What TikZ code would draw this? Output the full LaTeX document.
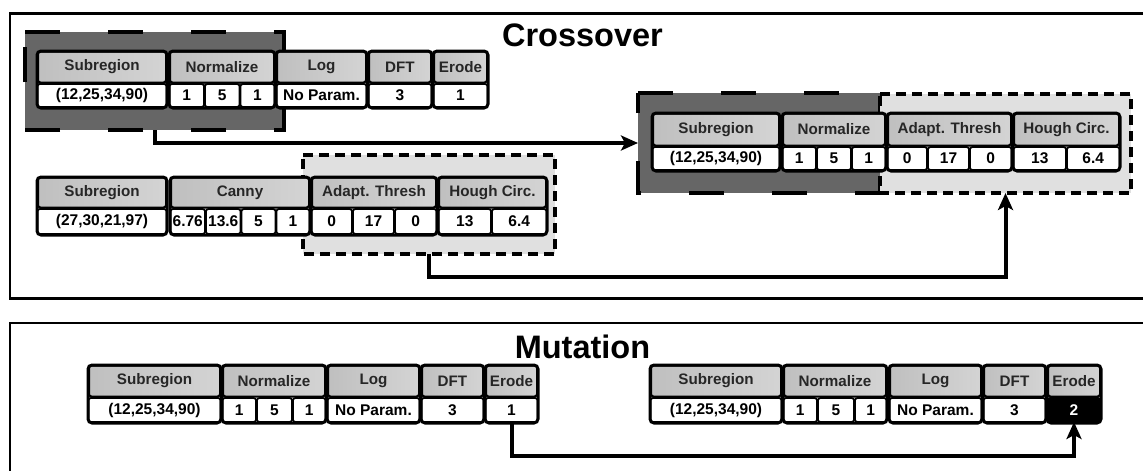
\documentclass[tikz,border=0pt]{standalone}
\usepackage{fontspec}
\setmainfont{Liberation Sans}
\usetikzlibrary{arrows.meta}
\tikzset{
 hdr/.style={draw=black, line width=2pt, rounded corners=2.5pt, left color=black!25, right color=black!17, inner sep=0pt, outer sep=0pt, text=black!85, font=\bfseries\fontsize{15.2}{18}\selectfont},
 val/.style={draw=black, line width=1.8pt, rounded corners=2.5pt, fill=white, inner sep=0pt, outer sep=0pt, font=\bfseries\fontsize{15.5}{18}\selectfont},
 valblack/.style={val, fill=black, text=white},
 blk/.style={draw=black, line width=3pt, rounded corners=4pt},
 darksel/.style={fill=black!60, inner sep=0pt, outer sep=0pt},
 lightsel/.style={fill=black!12, inner sep=0pt, outer sep=0pt},
 darkdash/.style={line width=3.5pt, dash pattern=on 35pt off 48pt},
 lightdash/.style={line width=3.8pt, dash pattern=on 10pt off 6pt},
 frame/.style={draw=black, line width=2.8pt},
 flow/.style={line width=4pt, -{Stealth[length=17pt,width=15pt,inset=4pt]}},
 title/.style={font=\bfseries\fontsize{32.5}{38}\selectfont, anchor=base, inner sep=0pt},
}
% #1 value style, #2 name, #3 x1, #4 x2, #5 ytop, #6 ymid, #7 ybot, #8 header, #9 cells a/b/text
\newcommand\opblock[9][val]{%
  \node[hdr, minimum width={(#4-#3-2)*1pt}, minimum height={(#6-#5-1)*1pt}] (#2h) at ({(#3+#4)/2},{(#5+#6)/2}) {#8};
  \foreach \a/\b/\t [count=\i] in {#9} {
    \node[#1, minimum width={(\b-\a-0.8)*1pt}, minimum height={(#7-#6-2)*1pt}] (#2v\i) at ({(\a+\b)/2},{(#6+#7)/2}) {\t};
  }
  \draw[blk] (#3,#5) rectangle (#4,#7);
}
\begin{document}
\begin{tikzpicture}[x=1pt, y=-1pt]
\clip (0,0) rectangle (1143,471);
% panels
\draw[frame] (10,13.5) rectangle (1165,298.5);
\draw[frame] (10,323) rectangle (1165,495);
\node[title] (tcross) at (582.5,46.7) {Crossover};
\node[title] (tmut) at (582.5,358) {Mutation};
% selection regions
\node[darksel, minimum width=259pt, minimum height=98pt] (p1sel) at (154.5,81) {};
\draw[darkdash] (p1sel.north west) -- (p1sel.north east) -- (p1sel.south east) -- (p1sel.south west) -- cycle;
\node[lightsel, minimum width=252pt, minimum height=99pt] (p2sel) at (429,204.5) {};
\draw[lightdash] (p2sel.north west) -- (p2sel.north east) -- (p2sel.south east) -- (p2sel.south west) -- cycle;
\node[darksel, minimum width=242pt, minimum height=100pt] (c1sel) at (759,143) {};
\draw[darkdash] (c1sel.north west) -- (c1sel.north east) -- (c1sel.south east) -- (c1sel.south west) -- cycle;
\node[lightsel, minimum width=251pt, minimum height=99pt] (c2sel) at (1005.5,143.5) {};
\draw[lightdash] (c2sel.north west) -- (c2sel.north east) -- (c2sel.south east) -- (c2sel.south west) -- cycle;
% parent 1
\opblock{p1a}{37}{167}{51}{83}{108}{Subregion}{37/167/{(12,25,34,90)}}
\opblock{p1b}{169}{275}{51}{83}{108}{Normalize}{169/204.5/1, 204.5/240/5, 240/275/1}
\opblock{p1c}{276}{367}{51}{83}{108}{Log}{276/367/No Param.}
\opblock{p1d}{368}{432}{51}{83}{108}{DFT}{368/432/3}
\opblock{p1e}{433}{488}{51}{83}{108}{Erode}{433/488/1}
% parent 2
\opblock{p2a}{37}{167}{177}{208}{235}{Subregion}{37/167/{(27,30,21,97)}}
\opblock{p2b}{170}{310}{177}{208}{235}{Canny}{170/205.5/6.76, 205.5/241/13.6, 241/276/5, 276/310/1}
\opblock{p2c}{311}{437}{177}{208}{235}{Adapt. Thresh}{311/352.5/0, 352.5/394.5/17, 394.5/437/0}
\opblock{p2d}{438}{547}{177}{208}{235}{Hough Circ.}{438/491.5/13, 491.5/547/6.4}
% child
\opblock{cA}{652}{780}{113}{146}{171}{Subregion}{652/780/{(12,25,34,90)}}
\opblock{cB}{782}{886}{113}{146}{171}{Normalize}{782/816.5/1, 816.5/851.5/5, 851.5/886/1}
\opblock{cC}{887}{1012}{113}{146}{171}{Adapt. Thresh}{887/927.5/0, 927.5/969.5/17, 969.5/1012/0}
\opblock{cD}{1013}{1120}{113}{146}{171}{Hough Circ.}{1013/1066.5/13, 1066.5/1120/6.4}
% mutation, before
\opblock{m1a}{88}{221}{365}{397}{423}{Subregion}{88/221/{(12,25,34,90)}}
\opblock{m1b}{222}{326}{365}{397}{423}{Normalize}{222/256.5/1, 256.5/292.5/5, 292.5/326/1}
\opblock{m1c}{327}{420}{365}{397}{423}{Log}{327/420/No Param.}
\opblock{m1d}{421}{484}{365}{397}{423}{DFT}{421/484/3}
\opblock{m1e}{485}{538}{365}{397}{423}{Erode}{485/538/1}
% mutation, after
\opblock{m2a}{650}{782}{365}{397}{423}{Subregion}{650/782/{(12,25,34,90)}}
\opblock{m2b}{783}{887}{365}{397}{423}{Normalize}{783/817.5/1, 817.5/854.5/5, 854.5/887/1}
\opblock{m2c}{889}{982}{365}{397}{423}{Log}{889/982/No Param.}
\opblock{m2d}{983}{1046}{365}{397}{423}{DFT}{983/1046/3}
\opblock[valblack]{m2e}{1047}{1101}{365}{397}{423}{Erode}{1047/1101/2}
% connectors
\draw[flow] (p1sel.south) |- (c1sel.west);
\draw[flow] (p2sel.south) -- ++(0,23) -| (c2sel.south);
\draw[flow] (m1ev1.south) -- ++(0,34) -| (m2ev1.south);
\end{tikzpicture}
\end{document}
